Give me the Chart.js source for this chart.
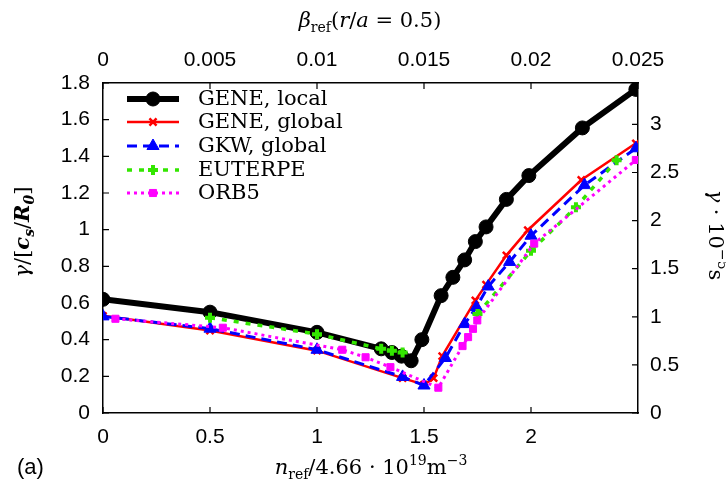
<!DOCTYPE html>
<html>
<head>
<meta charset="utf-8">
<script src="https://cdn.jsdelivr.net/npm/chart.js@4/dist/chart.umd.min.js"></script>
<style>
  html, body { margin: 0; padding: 0; background: #fff; }
  #growth { display: block; }
</style>
</head>
<body>
<canvas id="growth" width="726" height="490"></canvas>
<script>
// growth rate vs. reference density, five codes
let xLocal = [0, 0.5, 1.0, 1.3, 1.35, 1.395, 1.44, 1.49, 1.58, 1.635, 1.69, 1.74, 1.79, 1.885, 1.99, 2.24, 2.49]
let yLocal = [0.62, 0.55, 0.44, 0.35, 0.33, 0.31, 0.285, 0.40, 0.64, 0.74, 0.835, 0.935, 1.015, 1.165, 1.295, 1.555, 1.765]

let xGlobal = [0, 0.5, 1.0, 1.4, 1.5, 1.545, 1.585, 1.74, 1.79, 1.885, 1.985, 2.235, 2.49]
let yGlobal = [0.53, 0.45, 0.34, 0.19, 0.155, 0.19, 0.31, 0.614, 0.70, 0.86, 0.997, 1.271, 1.471]

let xGkw = [0, 0.5, 1.0, 1.4, 1.5, 1.6, 1.69, 1.745, 1.8, 1.9, 2.0, 2.25, 2.49]
let yGkw = [0.527, 0.46, 0.345, 0.197, 0.15, 0.30, 0.485, 0.578, 0.69, 0.824, 0.967, 1.243, 1.444]

// EUTERPE has no runs between 1.4 and 1.75 (null -> gap)
let xEut = [0.5, 1.0, 1.3, 1.35, 1.4, 1.55, 1.75, 2.0, 2.21, 2.4]
let yEut = [0.52, 0.43, 0.35, 0.34, 0.33, null, 0.54, 0.885, 1.122, 1.378]

let xOrb = [0.058, 0.56, 1.118, 1.227, 1.343, 1.567, 1.68, 1.706, 1.729, 1.749, 2.015, 2.49]
let yOrb = [0.514, 0.465, 0.345, 0.304, 0.25, 0.138, 0.365, 0.414, 0.459, 0.505, 0.924, 1.38]

let seriesNames = ['GENE, local', 'GENE, global', 'GKW, global', 'EUTERPE', 'ORB5']

let bottomTicks = ['0', '0.5', '1', '1.5', '2']
let topTicks = ['0', '0.005', '0.01', '0.015', '0.02', '0.025']
let leftTicks = ['0', '0.2', '0.4', '0.6', '0.8', '1', '1.2', '1.4', '1.6', '1.8']
let rightTicks = ['0', '0.5', '1', '1.5', '2', '2.5', '3']

const SERIF = "'DejaVu Serif', serif"
const SANS = "'Liberation Sans', Arial, sans-serif"

function pts(xs, ys) {
    return xs.map(function (x, i) { return { x: x, y: ys[i] } })
}

function labelFrom(list, v) {
    let s = String(+v.toFixed(3))
    return list.indexOf(s) >= 0 ? s : ''
}

// mixed-font text (subscripts, italics), centred on (cx, baseline cy)
function drawRich(ctx, parts, cx, cy, rot) {
    ctx.save()
    ctx.translate(cx, cy)
    ctx.rotate(rot || 0)
    ctx.textAlign = 'left'
    ctx.textBaseline = 'alphabetic'
    ctx.fillStyle = '#000'
    let w = 0
    parts.forEach(function (p) { ctx.font = p.f; w += ctx.measureText(p.t).width })
    let x = -w / 2
    parts.forEach(function (p) {
        ctx.font = p.f
        ctx.fillText(p.t, x, p.dy || 0)
        x += ctx.measureText(p.t).width
    })
    ctx.restore()
}

const rm = '21px ' + SERIF
const it = 'italic 21px ' + SERIF
const bi = 'italic bold 21px ' + SERIF
const sub = '14px ' + SERIF
const subBi = 'italic bold 14px ' + SERIF

// inward tick marks on all four sides
const innerTicks = {
    id: 'innerTicks',
    afterDraw(chart) {
        let ctx = chart.ctx
        let a = chart.chartArea
        let len = 6
        ctx.save()
        ctx.strokeStyle = '#000'
        ctx.lineWidth = 1.2
        ctx.beginPath()
        Object.values(chart.scales).forEach(function (s) {
            s.ticks.forEach(function (t) {
                if (!s._tickLabelFor(t.value)) return
                let p = s.getPixelForValue(t.value)
                if (s.id === 'x') { ctx.moveTo(p, a.bottom); ctx.lineTo(p, a.bottom - len) }
                if (s.id === 'x2') { ctx.moveTo(p, a.top); ctx.lineTo(p, a.top + len) }
                if (s.id === 'y') { ctx.moveTo(a.left, p); ctx.lineTo(a.left + len, p) }
                if (s.id === 'y2') { ctx.moveTo(a.right, p); ctx.lineTo(a.right - len, p) }
            })
        })
        ctx.stroke()
        ctx.restore()
    }
}

// key in the upper left of the plot + axis titles
const keyAndTitles = {
    id: 'keyAndTitles',
    afterDraw(chart) {
        let ctx = chart.ctx
        let rowY = [99, 122, 146, 170, 193]
        chart.data.datasets.forEach(function (ds, i) {
            let y = rowY[i]
            ctx.save()
            ctx.strokeStyle = ds.borderColor
            ctx.lineWidth = ds.borderWidth
            ctx.setLineDash(ds.borderDash || [])
            ctx.beginPath()
            ctx.moveTo(127, y)
            ctx.lineTo(179, y)
            ctx.stroke()
            ctx.setLineDash([])
            ctx.fillStyle = ds.pointBackgroundColor
            ctx.strokeStyle = ds.pointBorderColor
            ctx.lineWidth = ds.pointBorderWidth
            Chart.helpers.drawPoint(ctx, {
                pointStyle: ds.pointStyle, radius: ds.pointRadius, rotation: 0, borderWidth: ds.pointBorderWidth
            }, 153, y)
            ctx.fillStyle = '#000'
            ctx.font = rm
            ctx.textBaseline = 'middle'
            ctx.textAlign = 'left'
            ctx.fillText(ds.label, 198, y + 1)
            ctx.restore()
        })

        // top: beta_ref(r/a = 0.5)
        drawRich(ctx, [
            { t: 'β', f: it }, { t: 'ref', f: sub, dy: 5 }, { t: '(', f: rm }, { t: 'r', f: it },
            { t: '/', f: rm }, { t: 'a', f: it }, { t: ' = 0.5)', f: rm }
        ], 370, 27, 0)

        // bottom: n_ref / 4.66 10^19 m^-3
        drawRich(ctx, [
            { t: 'n', f: it }, { t: 'ref', f: sub, dy: 5 }, { t: '/4.66 · 10', f: rm },
            { t: '19', f: sub, dy: -9 }, { t: 'm', f: rm }, { t: '−3', f: sub, dy: -9 }
        ], 371, 474, 0)

        // left: gamma / [c_s / R_0]
        drawRich(ctx, [
            { t: 'γ', f: it }, { t: '/[', f: rm }, { t: 'c', f: bi }, { t: 's', f: subBi, dy: 5 },
            { t: '/', f: rm }, { t: 'R', f: bi }, { t: '0', f: subBi, dy: 5 }, { t: ']', f: rm }
        ], 29, 232, -Math.PI / 2)

        // right: gamma 10^-5 s
        drawRich(ctx, [
            { t: 'γ', f: it }, { t: ' · 10', f: rm }, { t: '−5', f: sub, dy: -9 }, { t: 's', f: rm }
        ], 709, 235, Math.PI / 2)

        ctx.save()
        ctx.fillStyle = '#000'
        ctx.font = '22px ' + SANS
        ctx.textBaseline = 'middle'
        ctx.textAlign = 'left'
        ctx.fillText('(a)', 17, 468)
        ctx.restore()
    }
}

function axisStyle(list, pad) {
    return {
        ticks: {
            color: '#000',
            padding: pad,
            font: { family: SANS, size: 21 },
            autoSkip: false,
            maxRotation: 0,
            callback: function (v) { return labelFrom(list, v) }
        },
        grid: { display: true, drawOnChartArea: false, drawTicks: false },
        border: { display: true, color: '#000', width: 1.5 }
    }
}

function fun_chart() {
    let ctx = document.getElementById('growth').getContext('2d')

    let x = axisStyle(bottomTicks, 12)
    x.type = 'linear'; x.position = 'bottom'; x.min = 0; x.max = 2.5
    x.ticks.stepSize = 0.5
    x.afterFit = function (s) { s.height = 77 }

    let x2 = axisStyle(topTicks, 10)
    x2.type = 'linear'; x2.position = 'top'; x2.min = 0; x2.max = 0.025
    x2.ticks.stepSize = 0.005
    x2.afterFit = function (s) { s.height = 83 }

    let y = axisStyle(leftTicks, 13)
    y.type = 'linear'; y.position = 'left'; y.min = 0; y.max = 1.8
    y.ticks.stepSize = 0.2
    y.afterFit = function (s) { s.width = 103 }

    let y2 = axisStyle(rightTicks, 12)
    y2.type = 'linear'; y2.position = 'right'; y2.min = 0; y2.max = 3.43
    y2.ticks.stepSize = 0.5
    y2.afterFit = function (s) { s.width = 88 }

    let chart = new Chart(ctx, {
        type: 'line',
        data: {
            datasets: [{
                label: seriesNames[0],
                data: pts(xLocal, yLocal),
                borderColor: '#000', borderWidth: 6,
                pointStyle: 'circle', pointRadius: 7,
                pointBackgroundColor: '#000', pointBorderColor: '#000', pointBorderWidth: 1,
                order: 5
            }, {
                label: seriesNames[1],
                data: pts(xGlobal, yGlobal),
                borderColor: '#ff0000', borderWidth: 2.5,
                pointStyle: 'crossRot', pointRadius: 5,
                pointBackgroundColor: '#ff0000', pointBorderColor: '#ff0000', pointBorderWidth: 2.5,
                order: 4
            }, {
                label: seriesNames[2],
                data: pts(xGkw, yGkw),
                borderColor: '#0000ff', borderWidth: 3, borderDash: [10, 6],
                pointStyle: 'triangle', pointRadius: 7,
                pointBackgroundColor: '#0000ff', pointBorderColor: '#0000ff', pointBorderWidth: 1,
                order: 3
            }, {
                label: seriesNames[3],
                data: pts(xEut, yEut),
                borderColor: '#33e600', borderWidth: 3.5, borderDash: [5, 7],
                pointStyle: 'cross', pointRadius: 5,
                pointBackgroundColor: '#33e600', pointBorderColor: '#33e600', pointBorderWidth: 4,
                spanGaps: false,
                order: 2
            }, {
                label: seriesNames[4],
                data: pts(xOrb, yOrb),
                borderColor: '#ff00ff', borderWidth: 3, borderDash: [3, 4],
                pointStyle: 'rect', pointRadius: 5,
                pointBackgroundColor: '#ff00ff', pointBorderColor: '#ff00ff', pointBorderWidth: 1,
                order: 1
            }]
        },
        options: {
            responsive: false,
            animation: false,
            devicePixelRatio: 1,
            layout: { padding: 0 },
            elements: { line: { tension: 0, borderCapStyle: 'butt' } },
            plugins: { legend: { display: false }, tooltip: { enabled: false } },
            scales: { x: x, x2: x2, y: y, y2: y2 }
        },
        plugins: [innerTicks, keyAndTitles]
    })
    return chart
}

// label lookup used by the tick-mark plugin
Chart.Scale.prototype._tickLabelFor = function (v) {
    let lists = { x: bottomTicks, x2: topTicks, y: leftTicks, y2: rightTicks }
    return labelFrom(lists[this.id] || [], v)
}

document.addEventListener('DOMContentLoaded', function () {
    fun_chart()
})
</script>
</body>
</html>
